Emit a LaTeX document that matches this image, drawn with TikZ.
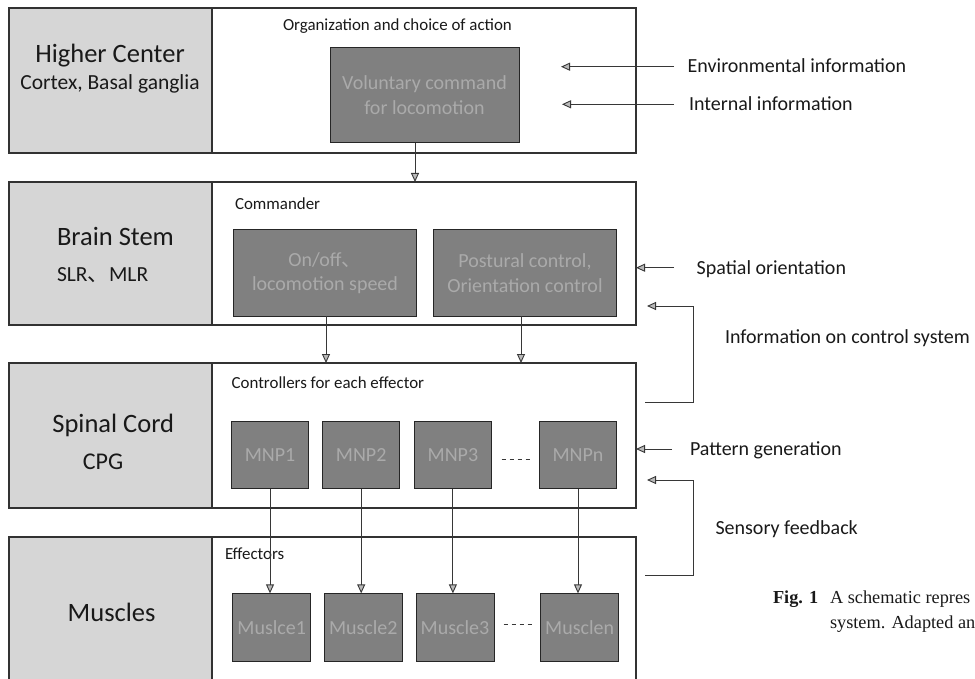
\documentclass[tikz,border=0pt]{standalone}
\usepackage{fontspec}
\setmainfont{Carlito}
\newfontfamily\capfont{Liberation Serif}
\newfontfamily\cjkfont{Noto Sans CJK SC}
\usetikzlibrary{arrows.meta,calc}
\definecolor{linec}{RGB}{50,50,50}
\definecolor{panelfill}{RGB}{214,214,214}
\definecolor{boxfill}{RGB}{128,128,128}
\definecolor{boxtext}{RGB}{170,170,170}
\definecolor{arrc}{RGB}{55,55,55}
\definecolor{txt}{RGB}{25,25,25}
\newcommand\ftitle{\fontsize{26.5}{31}\selectfont}
\newcommand\fsub{\fontsize{21.5}{25}\selectfont}
\newcommand\fbx{\fontsize{20}{24.5}\selectfont}
\newcommand\flab{\fontsize{16.9}{20}\selectfont}
\newcommand\fright{\fontsize{20}{24}\selectfont}
\newcommand\fcap{\capfont\fontsize{18.3}{25}\selectfont}
\begin{document}
\begin{tikzpicture}[x=1pt,y=-1pt,
  outer/.style={draw=linec, line width=1.2pt, fill=white, inner sep=0pt, outer sep=0pt},
  panel/.style={draw=linec, line width=1.2pt, fill=panelfill, inner sep=0pt, outer sep=0pt},
  dbox/.style={draw=black!85, line width=1pt, fill=boxfill, text=boxtext, font=\fbx, align=center, inner sep=0pt, outer sep=0pt},
  arr/.style={draw=arrc, line width=0.9pt, -{Triangle[length=9pt,width=8pt,fill=gray!55]}},
  dots/.style={draw=arrc, line width=1pt, dash pattern=on 4.5pt off 3.5pt},
  lbl/.style={inner sep=0pt, outer sep=0pt, anchor=base west, font=\fright, text=txt},
  inlbl/.style={inner sep=0pt, outer sep=0pt, anchor=base west, font=\flab, text=txt},
  ttl/.style={inner sep=0pt, outer sep=0pt, text=txt}
]
\useasboundingbox (0,0) rectangle (975,679);
\clip (0,0) rectangle (975,679);

% ---------- outer blocks ----------
\node[outer, minimum width=627pt, minimum height=145pt] (hc) at (322.5,80.5) {};
\node[panel, minimum width=203pt, minimum height=145pt] (hcp) at (110.5,80.5) {};
\node[outer, minimum width=627pt, minimum height=143pt] (bs) at (322.5,253.5) {};
\node[panel, minimum width=203pt, minimum height=143pt] (bsp) at (110.5,253.5) {};
\node[outer, minimum width=627pt, minimum height=145pt] (sc) at (322.5,435.5) {};
\node[panel, minimum width=203pt, minimum height=145pt] (scp) at (110.5,435.5) {};
\node[outer, minimum width=627pt, minimum height=153pt] (mu) at (322.5,613.5) {};
\node[panel, minimum width=203pt, minimum height=153pt] (mup) at (110.5,613.5) {};

% ---------- left panel titles ----------
\node[ttl, anchor=base, font=\ftitle] (hct) at (110,62.3) {Higher Center};
\node[ttl, anchor=base, font=\fsub] (hcs) at (110,90) {Cortex, Basal ganglia};
\node[ttl, anchor=base west, font=\ftitle] (bst) at (57,245.7) {Brain Stem};
\node[ttl, anchor=base west, font=\fsub] (bss) at (57,281.7) {SLR{\cjkfont 、}MLR};
\node[ttl, anchor=base, font=\ftitle] (sct) at (113.3,432.3) {Spinal Cord};
\node[ttl, anchor=base, font=\fontsize{24}{28}\selectfont] (scs) at (103,469) {CPG};
\node[ttl, anchor=base, font=\ftitle] (mut) at (111.6,621) {Muscles};

% ---------- inner labels ----------
\node[inlbl] (org) at (283,31) {Organization and choice of action};
\node[inlbl] (cmd) at (235,210) {Commander};
\node[inlbl] (ctl) at (231.7,388) {Controllers for each effector};
\node[inlbl] (eff) at (225,559.5) {Effectors};

% ---------- dark boxes ----------
\node[dbox, minimum width=189pt, minimum height=95.5pt] (vol) at (424.5,95) {Voluntary command\\for locomotion};
\node[dbox, minimum width=183pt, minimum height=86.5pt] (onoff) at (325,273) {On/off{\cjkfont 、}\\locomotion speed};
\node[dbox, minimum width=183pt, minimum height=86.5pt] (post) at (525,273) {Postural control,\\Orientation control};

\node[dbox, minimum width=77.5pt, minimum height=67pt] (m1) at (270,455) {MNP1};
\node[dbox, minimum width=77.5pt, minimum height=67pt] (m2) at (361.2,455) {MNP2};
\node[dbox, minimum width=77.5pt, minimum height=67pt] (m3) at (452.9,455) {MNP3};
\node[dbox, minimum width=77.5pt, minimum height=67pt] (mn) at (578,455) {MNPn};

\node[dbox, minimum width=78pt, minimum height=67.7pt] (u1) at (271.7,627.2) {Muslce1};
\node[dbox, minimum width=78pt, minimum height=67.7pt] (u2) at (363.3,627.2) {Muscle2};
\node[dbox, minimum width=78pt, minimum height=67.7pt] (u3) at (455,627.2) {Muscle3};
\node[dbox, minimum width=78pt, minimum height=67.7pt] (un) at (579.7,627.2) {Musclen};

% ---------- ellipsis dashes ----------
\coordinate (d1a) at (501.7,459.5);
\coordinate (d1b) at (530.2,459.5);
\coordinate (d2a) at (503.5,624);
\coordinate (d2b) at (532,624);
\draw[dots] (d1a) -- (d1b);
\draw[dots] (d2a) -- (d2b);

% ---------- vertical arrows ----------
\draw[arr] ([xshift=-9.5pt]vol.south) -- ([xshift=-9.5pt]vol.south |- bs.north);
\draw[arr] ([xshift=1pt]onoff.south) -- ([xshift=1pt]onoff.south |- sc.north);
\draw[arr] ([xshift=-4pt]post.south) -- ([xshift=-4pt]post.south |- sc.north);
\draw[arr] (m1.south) -- (m1.south |- u1.north);
\draw[arr] (m2.south) -- (m2.south |- u2.north);
\draw[arr] (m3.south) -- (m3.south |- u3.north);
\draw[arr] (mn.south) -- (mn.south |- un.north);

% ---------- right side labels ----------
\node[lbl] (env) at (687.7,72.7) {Environmental information};
\node[lbl] (int) at (689,111) {Internal information};
\node[lbl] (spa) at (696.7,274.5) {Spatial orientation};
\node[lbl] (ics) at (725,343.5) {Information on control system};
\node[lbl] (pat) at (690,455.5) {Pattern generation};
\node[lbl] (sen) at (715.5,534) {Sensory feedback};

\coordinate (envs) at (674,66.7);
\coordinate (enve) at (561,66.7);
\coordinate (ints) at (674,104.3);
\coordinate (inte) at (562,104.3);
\coordinate (spas) at (674,267.7);
\coordinate (pats) at (672,449);
\draw[arr] (envs) -- (enve);
\draw[arr] (ints) -- (inte);
\draw[arr] (spas) -- (spas -| bs.east);
\draw[arr] (pats) -- (pats -| sc.east);

\coordinate (ic0) at (645,402);
\coordinate (ic1) at (693,306);
\coordinate (ic2) at (647,306);
\draw[arr] (ic0) -| (ic1) -- (ic2);
\coordinate (sf0) at (645,575);
\coordinate (sf1) at (693,480);
\coordinate (sf2) at (647,480);
\draw[arr] (sf0) -| (sf1) -- (sf2);

% ---------- caption ----------
\node[ttl, anchor=base west, font=\fcap] (fig) at (773,603.5) {\textbf{Fig. 1}};
\node[ttl, anchor=base west, font=\fcap] (cap1) at (830,603.5) {A schematic repres};
\node[ttl, anchor=base west, font=\fcap] (cap2) at (830,628.5) {system. Adapted an};
\end{tikzpicture}
\end{document}
